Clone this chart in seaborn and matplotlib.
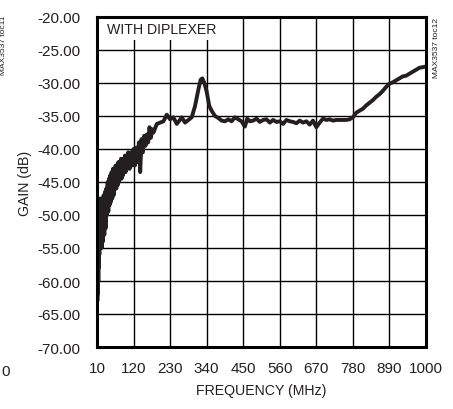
import matplotlib
matplotlib.use("Agg")
import matplotlib.pyplot as plt
import seaborn as sns
import pandas as pd

freq = [10, 10.5, 11, 11.5, 12, 12.5, 13, 13.5, 14, 14.5, 15, 15.5, 16, 16.5, 17, 17.5, 18,
        18.5, 19, 19.5, 20,
        22, 24, 26, 28, 30, 32, 34, 36, 38, 40, 42, 44, 46, 48, 50, 52, 54, 56, 58, 60,
        62, 64, 66, 68, 70, 72, 74, 76, 78, 80, 82, 84, 86, 88, 90, 92, 94, 96, 98, 100,
        104, 108, 112, 116, 120, 124, 128, 132, 136, 140, 144, 148, 152, 156, 160, 164,
        168, 172, 176, 180,
        190, 200, 210, 220, 230, 240, 250,
        258, 265, 275, 285, 295, 305, 315, 322, 327, 333, 340, 348, 355, 365, 375, 385, 395,
        405, 415, 425, 435, 445, 455, 462, 470, 480, 490, 500, 510, 520, 530, 540, 550, 560,
        570, 580, 590, 600, 610, 620, 630, 640, 650, 660, 670, 680, 690, 700, 710, 720, 730,
        740, 750, 760, 770, 780, 790, 800, 810, 820, 830, 840, 850, 860, 870, 880, 890, 900,
        910, 920, 930, 940, 950, 960, 970, 980, 990, 1000]
gain = [-64.0, -50.0, -63.0, -49.0, -62.0, -52.0, -61.0, -48.0, -60.0, -50.0, -58.0, -48.0,
        -57.0, -49.0, -56.0, -48.0, -55.0, -49.0, -54.0, -47.5, -53.0,
        -48.0, -55.0, -47.5, -54.0, -47.0, -53.0, -46.5, -52.0, -46.0, -50.0, -45.0, -49.5,
        -44.5, -48.5, -44.0, -48.0, -43.5, -47.5, -43.0, -47.0, -43.0, -46.0, -42.5, -46.0,
        -42.5, -45.5, -42.0, -45.0, -42.0, -44.5, -41.5, -44.5, -41.5, -44.0, -41.5, -43.5,
        -41.0, -43.5, -41.0, -43.0,
        -40.5, -43.0, -40.5, -42.5, -40.0, -42.5, -39.8, -42.0, -39.0, -43.5, -38.5, -40.5,
        -38.0, -39.5, -37.8, -39.0, -36.7, -38.3, -37.0, -37.5,
        -36.2, -36.0, -35.8, -34.8, -35.5, -35.2, -36.2,
        -35.7, -35.2, -36.0,
        -35.6, -35.2, -33.5, -31.0, -29.5, -29.3, -30.0, -31.3, -33.5, -34.2, -35.0, -35.3,
        -35.7, -35.8, -35.5, -35.8, -35.2, -35.5, -35.8, -36.6, -35.4, -35.8, -35.7, -35.4,
        -35.9, -35.6, -35.5, -36.0, -35.6, -35.9, -35.8, -36.2, -35.6, -35.8, -35.9, -36.1,
        -35.7, -36.0, -35.8, -36.3, -35.7, -36.7, -36.0, -35.4, -35.6, -35.5, -35.7, -35.6,
        -35.6, -35.6, -35.6, -35.5, -35.2, -34.5, -34.2, -33.9, -33.4, -33.0, -32.6, -32.1,
        -31.7, -31.2, -30.6, -30.1, -29.9, -29.6, -29.3, -29.0, -28.9, -28.6, -28.3, -28.0,
        -27.7, -27.6, -27.5]

x_ticks = [10, 120, 230, 340, 450, 560, 670, 780, 890, 1000]
y_ticks = [-70, -65, -60, -55, -50, -45, -40, -35, -30, -25, -20]

sns.set_theme(style="white")
FONT = ["Liberation Sans", "DejaVu Sans"]
plt.rcParams["font.family"] = FONT
INK = "#231f20"

fig = plt.figure(figsize=(4.53, 4.10), dpi=100)
ax = fig.add_axes([97 / 453, 1 - 348 / 410, (426 - 97) / 453, (348 - 18) / 410])

df = pd.DataFrame({"freq": freq, "gain": gain})
sns.lineplot(data=df, x="freq", y="gain", ax=ax, color=INK, linewidth=2.8,
             sort=False, estimator=None, zorder=3)

ax.set_xlim(10, 1000)
ax.set_ylim(-70, -20)
ax.set_xticks(x_ticks)
ax.set_xticklabels([str(v) for v in x_ticks])
ax.set_yticks(y_ticks)
ax.set_yticklabels([f"{v:.2f}" for v in y_ticks])
ax.grid(True, color="black", linewidth=1.0)
ax.tick_params(axis="both", length=0, labelsize=11, colors=INK)
ax.tick_params(axis="y", pad=12)
ax.tick_params(axis="x", pad=10)
for s in ax.spines.values():
    s.set_color("black")
    s.set_linewidth(2.2)
    s.set_zorder(5)

ax.set_xlabel("FREQUENCY (MHz)", fontsize=10.2, color=INK, labelpad=6)
ax.set_ylabel("GAIN (dB)", fontsize=10.2, color=INK, labelpad=4)

ax.text(0.03, 0.985, "WITH DIPLEXER", transform=ax.transAxes, ha="left", va="top",
        fontsize=10.2, color=INK, zorder=4,
        bbox=dict(facecolor="white", edgecolor="none", pad=3))

fig.text(436 / 453, 1 - 48 / 410, "MAX3537 toc12", rotation=90, ha="center", va="center",
         fontsize=6, color=INK)
fig.text(4 / 453, 1 - 45 / 410, "MAX3537 toc11", rotation=90, ha="center", va="center",
         fontsize=6, color=INK)
fig.text(1 / 453, 1 - 372 / 410, "0", ha="left", va="center", fontsize=11, color=INK)

fig.savefig("out.png", dpi=100)
